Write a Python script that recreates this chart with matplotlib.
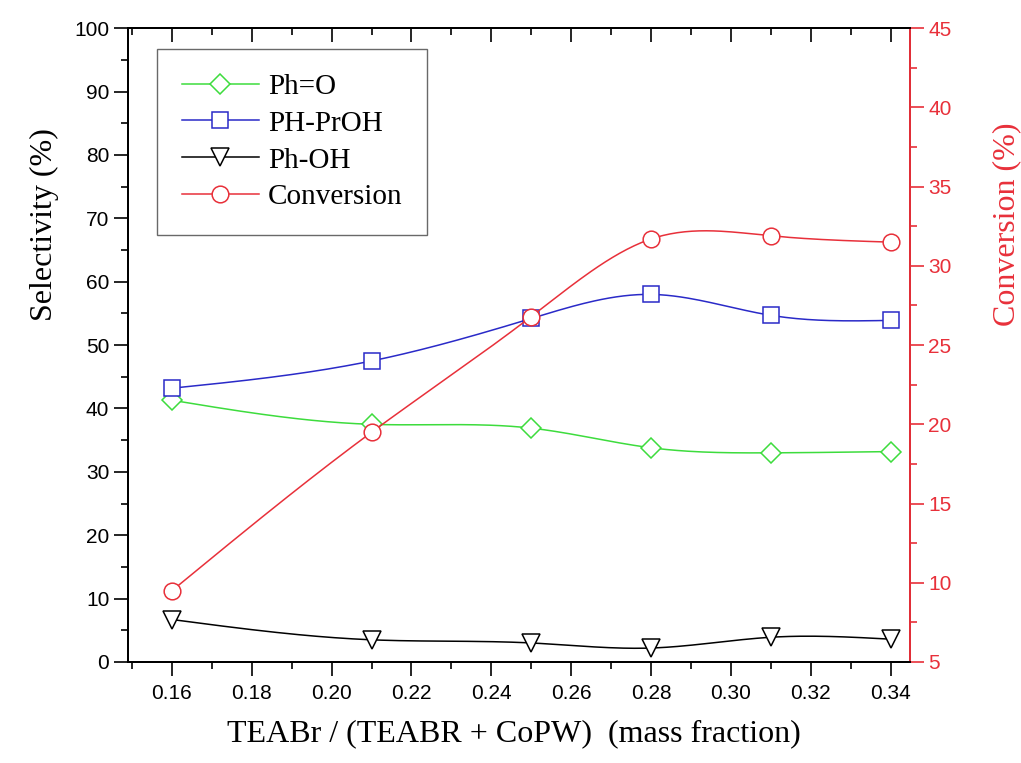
import numpy as np
import matplotlib
matplotlib.use('Agg')
import matplotlib.pyplot as plt
from matplotlib.ticker import MultipleLocator

# Data
mass_frac = [0.16, 0.21, 0.25, 0.28, 0.31, 0.34]
ph_o = [41.3, 37.5, 36.9, 33.8, 33.0, 33.2]
ph_proh = [43.2, 47.5, 54.2, 58.0, 54.7, 53.9]
ph_oh = [6.7, 3.5, 3.0, 2.2, 3.9, 3.6]
conversion = [9.5, 19.5, 26.8, 31.7, 31.9, 31.5]


def spline(x, y, n=200):
    """Natural cubic spline through the points, for a smooth line."""
    x = np.asarray(x, float)
    y = np.asarray(y, float)
    k = len(x)
    h = np.diff(x)
    A = np.zeros((k, k))
    b = np.zeros(k)
    A[0, 0] = A[-1, -1] = 1
    for i in range(1, k - 1):
        A[i, i - 1] = h[i - 1]
        A[i, i] = 2 * (h[i - 1] + h[i])
        A[i, i + 1] = h[i]
        b[i] = 6 * ((y[i + 1] - y[i]) / h[i] - (y[i] - y[i - 1]) / h[i - 1])
    m = np.linalg.solve(A, b)
    xs = np.linspace(x[0], x[-1], n)
    idx = np.clip(np.searchsorted(x, xs) - 1, 0, k - 2)
    t = xs - x[idx]
    hi = h[idx]
    a = (m[idx + 1] - m[idx]) / (6 * hi)
    bb = m[idx] / 2
    c = (y[idx + 1] - y[idx]) / hi - hi * (2 * m[idx] + m[idx + 1]) / 6
    ys = y[idx] + c * t + bb * t ** 2 + a * t ** 3
    return xs, ys


GREEN = '#3ddc3d'
BLUE = '#2a2ac8'
RED = '#e8303a'
serif = 'Liberation Serif'
sans = 'Liberation Sans'

fig = plt.figure(figsize=(10.21, 7.63), dpi=100)
ax = fig.add_axes([0.1254, 0.1324, 0.7656, 0.8306])
ax2 = ax.twinx()

series = [
    (ph_o, GREEN, 'D', 10, 'Ph=O'),
    (ph_proh, BLUE, 's', 11, 'PH-PrOH'),
    (ph_oh, 'black', 'v', 13, 'Ph-OH'),
]
handles = []
for y, col, mk, ms, lab in series:
    xs, ys = spline(mass_frac, y)
    ax.plot(xs, ys, color=col, lw=1.1)
    ax.plot(mass_frac, y, ls='none', marker=mk, ms=ms, mfc='white',
            mec=col, mew=1.1)
    h, = ax.plot([], [], color=col, lw=1.1, marker=mk, ms=ms, mfc='white',
                 mec=col, mew=1.1, label=lab)
    handles.append(h)

xs, ys = spline(mass_frac, conversion)
ax2.plot(xs, ys, color=RED, lw=1.1)
ax2.plot(mass_frac, conversion, ls='none', marker='o', ms=12, mfc='white',
         mec=RED, mew=1.1)
h, = ax2.plot([], [], color=RED, lw=1.1, marker='o', ms=12, mfc='white',
              mec=RED, mew=1.1, label='Conversion')
handles.append(h)

ax.set_xlim(0.149, 0.3448)
ax.set_ylim(0, 100)
ax2.set_ylim(5, 45)

ax.xaxis.set_major_locator(MultipleLocator(0.02))
ax.xaxis.set_minor_locator(MultipleLocator(0.01))
ax.yaxis.set_major_locator(MultipleLocator(10))
ax.yaxis.set_minor_locator(MultipleLocator(5))
ax2.yaxis.set_major_locator(MultipleLocator(5))
ax2.yaxis.set_minor_locator(MultipleLocator(2.5))

ax.tick_params(axis='x', which='both', direction='out', top=True, labelsize=15)
ax.tick_params(axis='x', which='major', length=10, width=1.2, pad=6)
ax.tick_params(axis='x', which='minor', length=5, width=1.2)
ax.tick_params(axis='y', which='major', direction='out', length=10, width=1.2,
               labelsize=15)
ax.tick_params(axis='y', which='minor', direction='out', length=5, width=1.2)
for t in ax.xaxis.get_major_ticks() + ax.xaxis.get_minor_ticks():
    t.tick2line.set_marker(3)  # inward on top
ax2.tick_params(axis='y', which='major', direction='out', length=10, width=1.2,
                colors=RED, labelsize=15)
ax2.tick_params(axis='y', which='minor', direction='out', length=5, width=1.2,
                colors=RED)

for lbl in ax.get_xticklabels() + ax.get_yticklabels() + ax2.get_yticklabels():
    lbl.set_family(sans)

for s in ax.spines.values():
    s.set_linewidth(1.4)
for s in ax2.spines.values():
    s.set_linewidth(1.4)
ax2.spines['right'].set_color(RED)

ax.set_xlabel('TEABr / (TEABR + CoPW)  (mass fraction)', family=serif,
              fontsize=23)
ax.set_ylabel('Selectivity (%)', family=serif, fontsize=23)
ax2.set_ylabel('Conversion (%)', family=serif, fontsize=23, color=RED)
ax.xaxis.set_label_coords(0.494, -0.09)
ax.yaxis.set_label_coords(-0.088, 0.69)
ax2.yaxis.set_label_coords(1.106, 0.69)

leg = ax2.legend(handles=handles, loc='upper left',
                 bbox_to_anchor=(0.037, 0.968), frameon=True, fancybox=False,
                 edgecolor='#444444', prop={'family': serif, 'size': 21},
                 handlelength=2.65, borderpad=0.85, labelspacing=0.36,
                 handletextpad=0.3, borderaxespad=0)
leg.get_frame().set_linewidth(1.0)

fig.savefig('out.png', dpi=100)
